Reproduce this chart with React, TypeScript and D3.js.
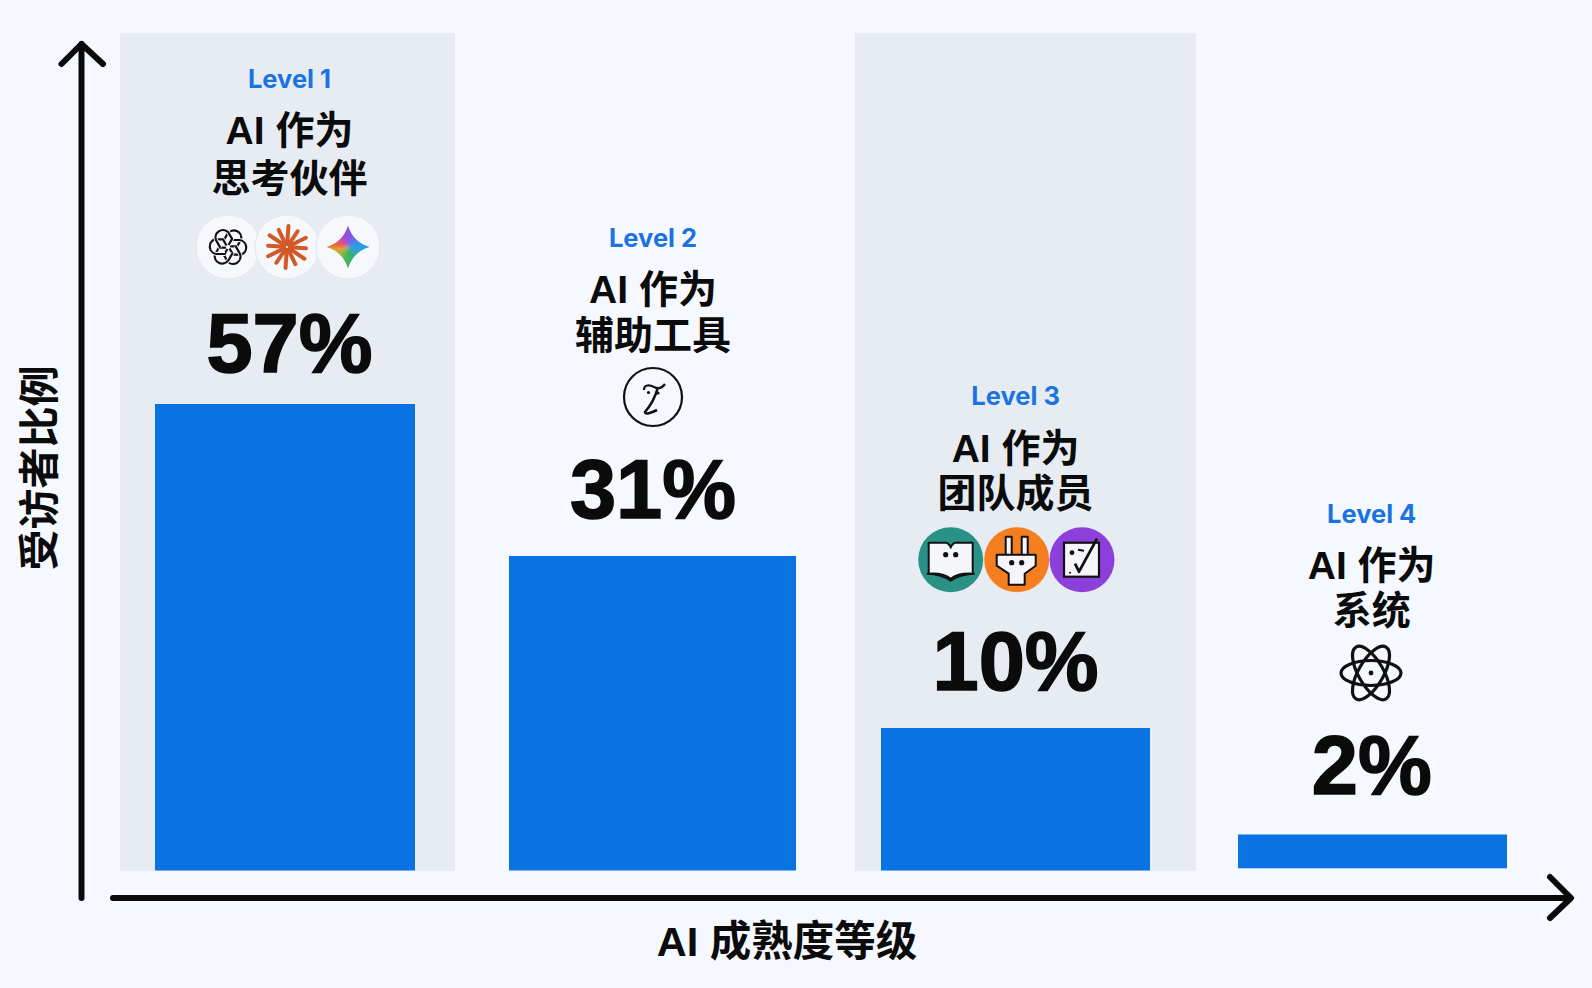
import React from "react";
import * as d3 from "d3";

const levels = ["Level 1", "Level 2", "Level 3", "Level 4"];
const titleLine1 = ["AI 作为", "AI 作为", "AI 作为", "AI 作为"];
const titleLine2 = ["思考伙伴", "辅助工具", "团队成员", "系统"];
const shares = [57, 31, 10, 2];
const yAxisTitle = "受访者比例";
const xAxisTitle = "AI 成熟度等级";

// Bar heights in the picture are not proportional: the (unlabelled) axis is piecewise.
const yDomain = [0, 2, 10, 31, 57];
const yRange = [870.5, 834.5, 728, 556, 404];
const barLeft = [155, 509, 881, 1238];
const barRight = [415, 796, 1150, 1507];
const barBottom = [870.5, 870.5, 870.5, 868.3];
const centers = [289.5, 653, 1015.6, 1371.7];
const levelBase = [88, 247, 405, 523];
const line1Base = [143.5, 302.5, 461.5, 579];
const line2Base = [191.5, 348.5, 507, 624];
const valueBase = [372, 518, 690, 794];
const panels = [[120, 455], [855, 1196]];

const BG = "#f5f8fe";
const PANEL = "#e7ecf3";
const BLUE = "#0a73e4";
const LATIN = "Inter, 'Noto Sans CJK SC', sans-serif";
const CJK = "'Liberation Sans', 'Noto Sans CJK SC', sans-serif";
const NUM = "'Liberation Sans', sans-serif";

const y = d3.scaleLinear().domain(yDomain).range(yRange);
const xLeft = d3.scaleOrdinal<string, number>().domain(levels).range(barLeft);
const xRight = d3.scaleOrdinal<string, number>().domain(levels).range(barRight);

const StarPath = "M0,-21.5 Q5,-5 21.5,0 Q5,5 0,21.5 Q-5,5 -21.5,0 Q-5,-5 0,-21.5 Z";
const geminiColors = ["#7a5ce0", "#4a78ea", "#2f98ee", "#2fa0d8", "#30a8a0", "#35b070", "#50b850", "#90b840", "#e0a030", "#e8603c", "#d048a0", "#9a50d8"];

function WhiteDisc({ cx, cy, r, children }: any) {
  return (
    <g transform={`translate(${cx},${cy})`}>
      <circle r={r} fill="#f6f8fb" stroke="#e3e7ee" strokeWidth={1} />
      {children}
    </g>
  );
}

function Knot() {
  const hook = "M-7,-3 L-7,-11.5 A7.5,7.5 0 0 1 7.6,-13 L7.6,-5 L1.5,-1.5";
  return (
    <g fill="none" strokeLinejoin="round" transform="rotate(30)">
      {[0, 60, 120, 180, 240, 300].map((a) => (
        <g key={a} transform={`rotate(${a})`}>
          <path d={hook} stroke="#f6f8fb" strokeWidth={4} />
          <path d={hook} stroke="#111" strokeWidth={2.2} />
        </g>
      ))}
    </g>
  );
}

function Spark() {
  return (
    <g stroke="#d25a28" strokeWidth={4} strokeLinecap="round">
      {d3.range(12).map((i) => (
        <line key={i} x1={0} y1={-3} x2={0} y2={i % 2 ? -19 : -21} transform={`rotate(${i * 30 + 4})`} />
      ))}
    </g>
  );
}

function Gemini() {
  const arc = d3.arc();
  const n = geminiColors.length;
  return (
    <g>
      <defs>
        <clipPath id="gemclip"><path d={StarPath} /></clipPath>
        <filter id="gemblur"><feGaussianBlur stdDeviation="1.8" /></filter>
      </defs>
      <g clipPath="url(#gemclip)">
        <g filter="url(#gemblur)">
          {geminiColors.map((c, i) => (
            <path key={i} fill={c} d={arc({ innerRadius: 0, outerRadius: 30, startAngle: (i / n) * 2 * Math.PI, endAngle: ((i + 1.1) / n) * 2 * Math.PI }) as string} />
          ))}
        </g>
      </g>
    </g>
  );
}

function Book() {
  return (
    <g>
      <circle r={32.5} fill="#2a9187" />
      <path d="M-22,-17 L-4,-17 Q0,-14 0,-12 Q0,-14 4,-17 L22,-17 L22,14 Q8,13 0,19 Q-8,13 -22,14 Z" fill="#f4f6fa" stroke="#111" strokeWidth={2} strokeLinejoin="round" />
      <path d="M-24,14 Q-10,14 0,21 Q10,14 24,14" fill="none" stroke="#111" strokeWidth={2} />
      <circle cx={-5} cy={-5} r={2.6} fill="#111" />
      <circle cx={5} cy={-5} r={2.6} fill="#111" />
    </g>
  );
}

function Plug() {
  return (
    <g stroke="#111" strokeWidth={2} strokeLinejoin="round" fill="#f4f6fa">
      <circle r={32.5} fill="#f57f20" stroke="none" />
      <rect x={-11} y={-23} width={6} height={19} />
      <rect x={5} y={-23} width={6} height={19} />
      <path d="M-20,-5 L19,-5 L19,6 L8,14 L8,25 L-8,25 L-8,14 L-20,6 Z" />
      <circle cx={-5} cy={3} r={2.6} fill="#111" stroke="none" />
      <circle cx={5} cy={3} r={2.6} fill="#111" stroke="none" />
    </g>
  );
}

function Check() {
  return (
    <g>
      <circle r={32.5} fill="#8d3fdc" />
      <rect x={-18} y={-17} width={35} height={34} fill="#f4f6fa" stroke="#111" strokeWidth={2.2} />
      <path d="M-7,4 L-3,12 L15,-21" fill="none" stroke="#111" strokeWidth={2.8} strokeLinejoin="round" />
      <circle cx={-10} cy={-7} r={2.4} fill="#111" />
      <path d="M-4,-10 L2,-9" stroke="#111" strokeWidth={2} />
      <circle cx={-12} cy={13} r={1} fill="#111" />
    </g>
  );
}

function ScriptL() {
  return (
    <g fill="none" stroke="#111">
      <circle r={29} strokeWidth={2.2} />
      <path d="M-9,-7 C-9,-13 -3,-12 1,-10 C5,-8 9,-9 12,-13" strokeWidth={2.2} />
      <path d="M5,-10 C3,-2 -2,8 -8,15 C-8,18 -2,16 4,13" strokeWidth={2.6} />
      <circle cx={-4.5} cy={-4.5} r={1.6} fill="#111" stroke="none" />
      <circle cx={5} cy={-4} r={1.6} fill="#111" stroke="none" />
    </g>
  );
}

function Atom() {
  return (
    <g fill="none" stroke="#111" strokeWidth={3.2}>
      {[0, 60, -60].map((a) => (
        <ellipse key={a} rx={30} ry={12.5} transform={`rotate(${a})`} />
      ))}
      <circle r={2.4} fill="#111" stroke="none" />
    </g>
  );
}

function Icons({ i }: { i: number }) {
  if (i === 0)
    return (
      <g>
        <WhiteDisc cx={228} cy={247} r={32}><Knot /></WhiteDisc>
        <WhiteDisc cx={287} cy={247} r={32}><Spark /></WhiteDisc>
        <WhiteDisc cx={348} cy={247} r={32}><Gemini /></WhiteDisc>
      </g>
    );
  if (i === 1) return <g transform="translate(653,397)"><ScriptL /></g>;
  if (i === 2)
    return (
      <g>
        <g transform="translate(950.7,559.7)"><Book /></g>
        <g transform="translate(1016.7,559.7)"><Plug /></g>
        <g transform="translate(1082,559.7)"><Check /></g>
      </g>
    );
  return <g transform="translate(1371,673)"><Atom /></g>;
}

export default function App() {
  return (
    <svg width={1592} height={988} viewBox="0 0 1592 988" style={{ position: "absolute", left: 0, top: 0, display: "block" }}>
      <rect width={1592} height={988} fill={BG} />
      {panels.map(([a, b]) => (
        <rect key={a} x={a} y={33} width={b - a} height={838} fill={PANEL} />
      ))}
      {levels.map((l, i) => (
        <rect key={l} x={xLeft(l)} y={y(shares[i])} width={xRight(l) - xLeft(l)} height={barBottom[i] - y(shares[i])} fill={BLUE} />
      ))}
      {levels.map((l, i) => (
        <g key={l} textAnchor="middle">
          <text x={centers[i]} y={levelBase[i]} fontFamily={LATIN} fontWeight={700} fontSize={25.5} fill="#1a73e0">{l}</text>
          <text x={centers[i]} y={line1Base[i]} fontFamily={CJK} fontWeight={700} fontSize={39} fill="#0b0b0b">{titleLine1[i]}</text>
          <text x={centers[i]} y={line2Base[i]} fontFamily={CJK} fontWeight={700} fontSize={39} fill="#0b0b0b">{titleLine2[i]}</text>
          <text x={centers[i]} y={valueBase[i]} fontFamily={NUM} fontWeight={700} fontSize={83} stroke="#0b0b0b" strokeWidth={1.6} fill="#0b0b0b">{shares[i]}%</text>
          <Icons i={i} />
        </g>
      ))}
      <g fill="none" stroke="#0a0a0a" strokeWidth={6} strokeLinecap="round" strokeLinejoin="round">
        <path d="M81.5,898 L81.5,44" />
        <path d="M61.5,64 L81.5,44 L103,64" />
        <path d="M113,898 L1570,898" />
        <path d="M1550,877 L1571,898 L1550,918" />
      </g>
      <text transform="translate(54,468) rotate(-90)" textAnchor="middle" fontFamily={CJK} fontWeight={700} fontSize={41} fill="#0b0b0b">{yAxisTitle}</text>
      <text x={787} y={956} textAnchor="middle" fontFamily={CJK} fontWeight={700} fontSize={41.5} fill="#0b0b0b">{xAxisTitle}</text>
    </svg>
  );
}
